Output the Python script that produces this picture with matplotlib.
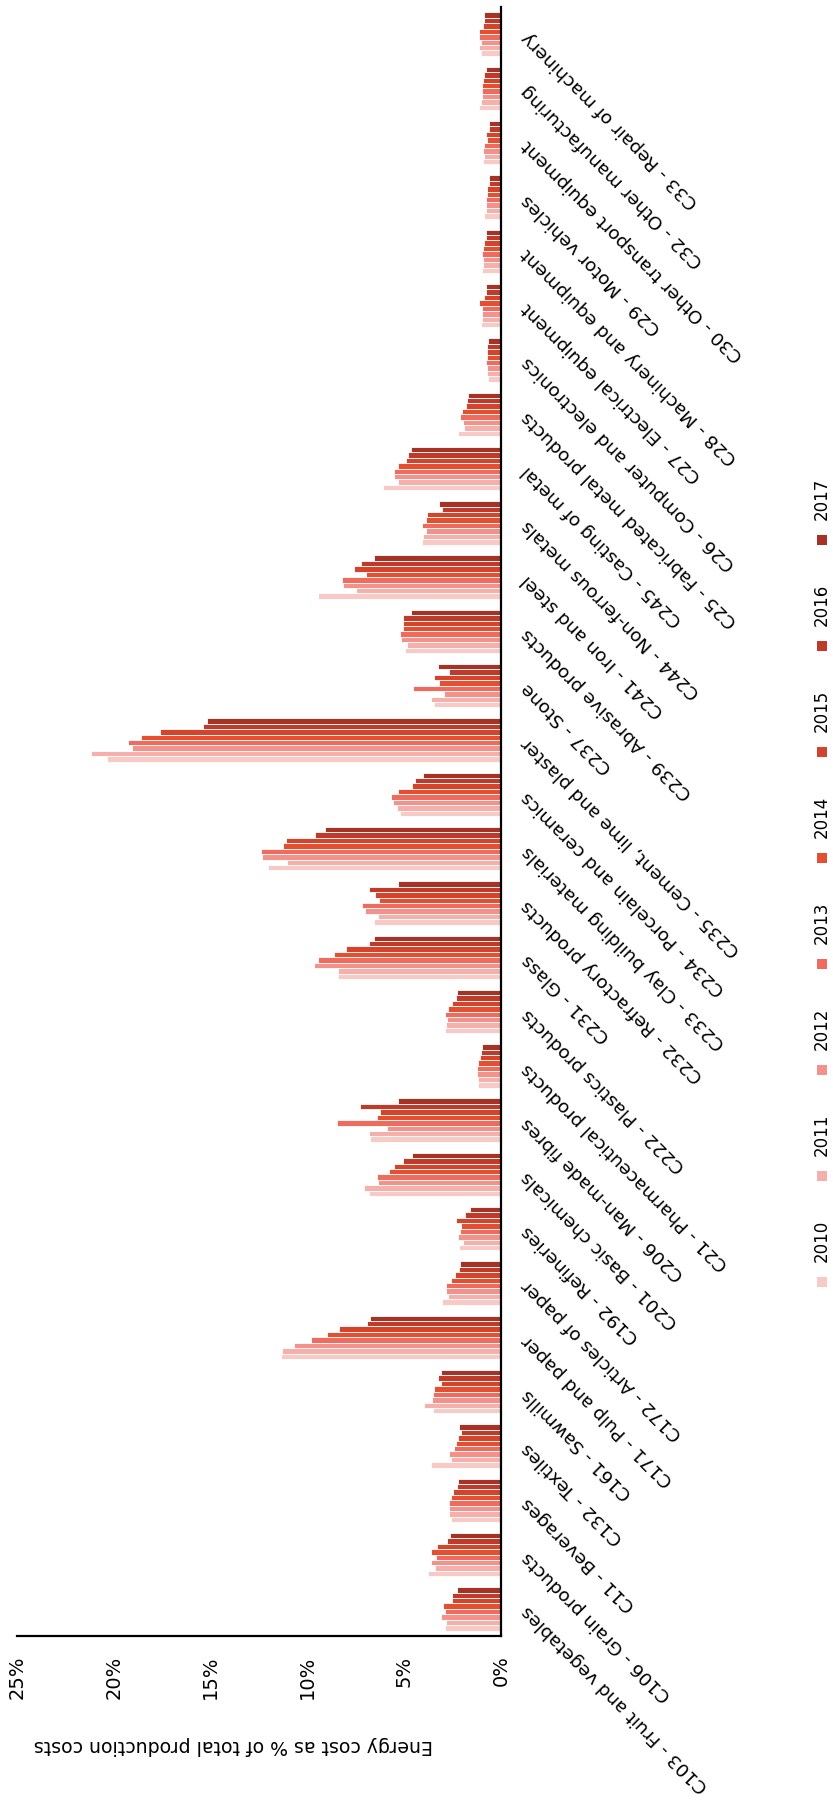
import matplotlib
matplotlib.use("Agg")
import matplotlib.pyplot as plt
from matplotlib.patches import Rectangle
import numpy as np

categories = ["C103 - Fruit and vegetables", "C106 - Grain products", "C11 - Beverages",
              "C132 - Textiles", "C161 - Sawmills", "C171 - Pulp and paper",
              "C172 - Articles of paper", "C192 - Refineries", "C201 - Basic chemicals",
              "C206 - Man-made fibres", "C21 - Pharmaceutical products", "C222 - Plastics products",
              "C231 - Glass", "C232 - Refractory products", "C233 - Clay building materials",
              "C234 - Porcelain and ceramics", "C235 - Cement, lime and plaster", "C237 - Stone",
              "C239 - Abrasive products", "C241 - Iron and steel", "C244 - Non-ferrous metals",
              "C245 - Casting of metal", "C25 - Fabricated metal products",
              "C26 - Computer and electronics", "C27 - Electrical equipment",
              "C28 - Machinery and equipment", "C29 - Motor vehicles",
              "C30 - Other transport equipment", "C32 - Other manufacturing",
              "C33 - Repair of machinery"]

years = ["2010", "2011", "2012", "2013", "2014", "2015", "2016", "2017"]

v2010 = [2.89, 3.75, 2.60, 3.63, 3.50, 11.38, 3.03, 2.17, 6.82, 6.77, 1.17, 2.89, 8.40, 6.54, 12.05, 5.22, 20.33, 3.46, 4.96, 9.47, 4.10, 6.11, 2.24, 0.66, 1.05, 1.00, 0.86, 0.91, 1.12, 1.05]
v2011 = [2.84, 3.43, 2.67, 2.60, 3.98, 11.33, 2.72, 1.98, 7.08, 6.80, 1.17, 2.86, 8.44, 6.37, 11.07, 5.36, 21.19, 3.63, 4.84, 7.49, 4.01, 5.30, 1.91, 0.74, 1.00, 0.91, 0.79, 0.86, 1.05, 1.12]
v2012 = [3.10, 3.63, 2.69, 2.67, 3.55, 10.67, 2.84, 2.24, 6.37, 5.90, 1.22, 2.81, 9.66, 7.02, 12.36, 5.56, 19.08, 2.93, 5.18, 8.15, 3.89, 5.51, 1.98, 0.74, 1.00, 0.91, 0.79, 0.91, 1.00, 1.05]
v2013 = [2.89, 3.37, 2.67, 2.43, 3.50, 9.81, 2.84, 2.12, 6.42, 8.49, 1.24, 2.89, 9.47, 7.20, 12.40, 5.70, 19.28, 4.56, 5.22, 8.20, 4.10, 5.51, 2.12, 0.79, 1.00, 1.00, 0.79, 0.86, 1.00, 1.12]
v2014 = [2.98, 3.63, 2.60, 2.32, 3.44, 9.00, 2.58, 2.07, 5.77, 6.42, 1.17, 2.72, 8.61, 6.28, 11.24, 5.30, 18.61, 3.19, 5.08, 6.97, 3.87, 5.30, 2.03, 0.74, 1.12, 0.91, 0.74, 0.74, 1.00, 1.12]
v2015 = [2.51, 3.29, 2.46, 2.20, 3.11, 8.35, 2.38, 2.32, 5.51, 6.25, 1.07, 2.51, 8.02, 6.51, 11.12, 4.58, 17.61, 3.44, 5.05, 7.58, 3.84, 4.91, 1.82, 0.74, 0.86, 0.86, 0.74, 0.79, 0.91, 0.91]
v2016 = [2.55, 2.77, 2.26, 2.07, 3.24, 6.91, 2.15, 1.86, 5.05, 7.28, 1.03, 2.32, 6.82, 6.82, 9.61, 4.44, 15.38, 2.67, 5.05, 7.23, 3.03, 4.82, 1.77, 0.74, 0.79, 0.79, 0.60, 0.60, 0.88, 0.86]
v2017 = [2.26, 2.63, 2.20, 2.17, 3.11, 6.77, 2.12, 1.60, 4.58, 5.30, 1.00, 2.26, 6.56, 5.30, 9.09, 4.05, 15.17, 3.24, 4.65, 6.56, 3.19, 4.65, 1.72, 0.66, 0.79, 0.79, 0.60, 0.60, 0.79, 0.86]

series = [v2010, v2011, v2012, v2013, v2014, v2015, v2016, v2017]
colors = ["#f8cac6", "#f6b0ab", "#f3928a", "#ef6b5d", "#e54f30", "#d4432a", "#bf3a28", "#a53224"]

tick_vals = [0, 5, 10, 15, 20, 25]
tick_labels = ["0%", "5%", "10%", "15%", "20%", "25%"]
ylabel = "Energy cost as % of total production costs"

W, H = 833, 1807
fig = plt.figure(figsize=(W / 100, H / 100), dpi=100)
ax_left, ax_right, ax_top, ax_bot = 17, 501, 7, 1636
ax = fig.add_axes([ax_left / W, 1 - ax_bot / H, (ax_right - ax_left) / W, (ax_bot - ax_top) / H])

n = len(categories)
pos = np.arange(n)
bw = 0.1
for j, (vals, col) in enumerate(zip(series, colors)):
    ax.barh(pos + (j - 3.5) * bw, vals, height=bw, color=col,
            edgecolor="white", linewidth=0.6, zorder=2)

ax.set_xlim(25, 0)
ax.set_ylim(-0.5, n - 0.5)

for s in ["top", "left"]:
    ax.spines[s].set_visible(False)
for s in ["right", "bottom"]:
    ax.spines[s].set_linewidth(1.6)
    ax.spines[s].set_color("black")

narrow = ["Liberation Sans Narrow", "DejaVu Sans"]

ax.set_xticks(tick_vals)
ax.set_xticklabels(tick_labels, rotation=90, family=narrow, fontsize=14,
                   va="top", ha="center")
ax.tick_params(axis="x", length=0, pad=14)

ax.yaxis.tick_right()
ax.set_yticks(pos)
ax.set_yticklabels(categories, fontsize=13.3, family=["DejaVu Sans"])
ax.tick_params(axis="y", length=0, pad=17)
for lbl in ax.get_yticklabels():
    lbl.set_rotation(135)
    lbl.set_ha("right")
    lbl.set_va("center")
    lbl.set_rotation_mode("anchor")

fig.text(233 / W, 1 - 1745 / H, ylabel, rotation=180, ha="center", va="center",
         fontsize=13.6, family=["DejaVu Sans"])

# legend (rotated layout)
sq = 10
for j, (yr, col) in enumerate(zip(years, colors)):
    cy = 1282 - j * 106
    fig.patches.append(Rectangle(((822 - sq / 2) / W, 1 - (cy + sq / 2) / H), sq / W, sq / H,
                                 transform=fig.transFigure, facecolor=col, edgecolor="none"))
    fig.text(822 / W, 1 - (cy - 20) / H, yr, rotation=90, ha="center", va="bottom",
             fontsize=12, family=narrow)

fig.savefig("out.png", dpi=100)
